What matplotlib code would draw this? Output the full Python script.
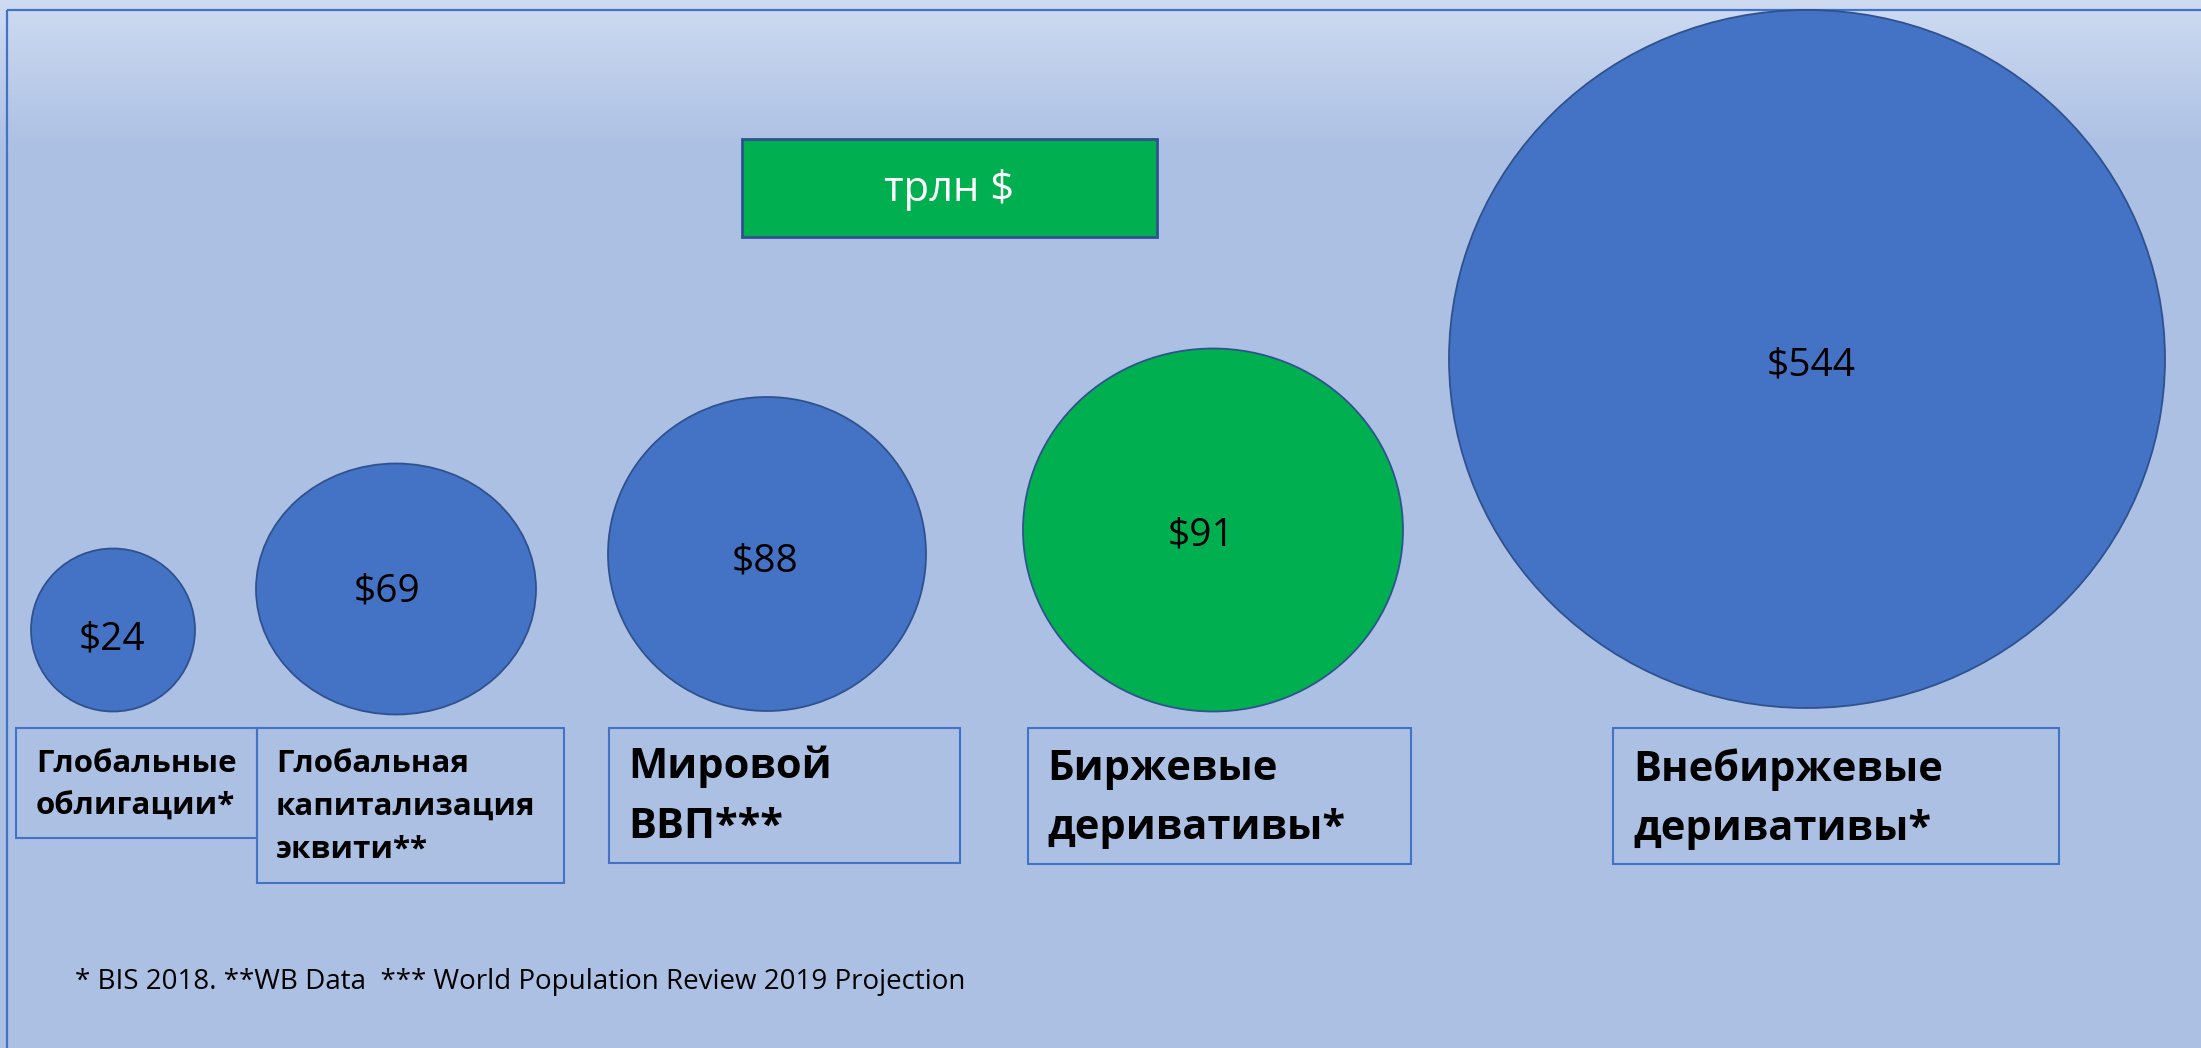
import numpy as np
import matplotlib
matplotlib.use("Agg")
import matplotlib.pyplot as plt
from matplotlib.patches import Ellipse, Rectangle

plt.rcParams["font.family"] = ["Open Sans", "DejaVu Sans"]

# data
CATEGORIES = [
    "Глобальные\nоблигации*",
    "Глобальная\nкапитализация\nэквити**",
    "Мировой\nВВП***",
    "Биржевые\nдеривативы*",
    "Внебиржевые\nдеривативы*",
]
VALUES = [24, 69, 88, 91, 544]
UNIT = "трлн $"
FOOTNOTE = "* BIS 2018. **WB Data  *** World Population Review 2019 Projection"

# layout (slide pixels): ellipse centre / size, value label pos, label box, label text pos
ELLIPSES = [(113, 630, 164, 163), (396, 589, 280, 251), (767, 554, 318, 314),
            (1213, 530, 380, 363), (1807, 359, 716, 698)]
VALUE_POS = [(112, 639), (387, 592), (765, 561), (1201, 536), (1811, 366)]
BOXES = [(16, 728, 241, 110), (257, 728, 307, 155), (609, 728, 351, 135),
         (1028, 728, 383, 136), (1613, 728, 446, 136)]
LABEL_POS = [(36, 785), (276, 807), (628, 797), (1047, 799), (1633, 799)]
LABEL_SIZE = [22.5, 22.5, 30, 30, 30]
LABEL_SPACING = [1.55, 1.55, 1.6, 1.6, 1.6]
GREEN_IDX = 3

BLUE = "#4472C4"
BLUE_EDGE = "#2F528F"
GREEN = "#00B050"

W, H = 2201, 1048
fig = plt.figure(figsize=(W / 100, H / 100), dpi=100)
ax = fig.add_axes([0, 0, 1, 1])
ax.set_xlim(0, W)
ax.set_ylim(H, 0)
ax.axis("off")

# background gradient
ys = np.arange(H)
t = np.clip(ys / 150.0, 0, 1)[:, None]
top = np.array([206, 219, 241]) / 255
mid = np.array([172, 192, 228]) / 255
grad = top * (1 - t) + mid * t
img = np.repeat(grad[:, None, :], 2, axis=1)
ax.imshow(img, extent=(0, W, H, 0), aspect="auto", zorder=0)

# slide frame
ax.add_patch(Rectangle((7, 10), W + 20, H + 20, fill=False, ec=BLUE, lw=1.6, zorder=1))

# bubbles
for i, ((cx, cy, w, h), v, (tx, ty)) in enumerate(zip(ELLIPSES, VALUES, VALUE_POS)):
    fc = GREEN if i == GREEN_IDX else BLUE
    ax.add_patch(Ellipse((cx, cy), w, h, fc=fc, ec=BLUE_EDGE, lw=1.3, zorder=3))
    ax.text(tx, ty, f"${v}", ha="center", va="center", fontsize=28, color="black", zorder=4)

# category boxes
for (bx, by, bw, bh), (lx, ly), lab, fs, ls in zip(BOXES, LABEL_POS, CATEGORIES,
                                                    LABEL_SIZE, LABEL_SPACING):
    ax.add_patch(Rectangle((bx, by), bw, bh, fill=False, ec=BLUE, lw=1.5, zorder=3))
    ax.text(lx, ly, lab, ha="left", va="center", fontsize=fs, fontweight="bold",
            linespacing=ls, color="black", zorder=4)

# unit badge
ax.add_patch(Rectangle((742, 139), 415, 98, fc=GREEN, ec=BLUE_EDGE, lw=2, zorder=3))
ax.text(949.5, 190, UNIT, ha="center", va="center", fontsize=30, color="white", zorder=4)

# footnote
ax.text(75, 982, FOOTNOTE, ha="left", va="center", fontsize=20, color="black", zorder=4)

fig.savefig("out.png", dpi=100)
